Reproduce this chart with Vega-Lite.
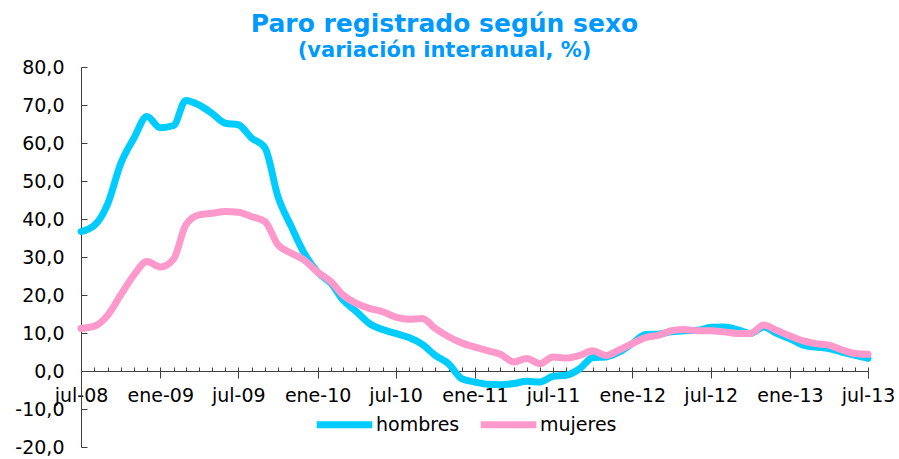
{
  "$schema": "https://vega.github.io/schema/vega-lite/v6.json",
  "width": 787,
  "height": 380,
  "autosize": "none",
  "padding": {"left": 81, "top": 67, "right": 31, "bottom": 12},
  "background": "white",
  "config": {"view": {"stroke": null}, "font": "DejaVu Sans"},
  "title": {
    "text": "Paro registrado según sexo",
    "subtitle": "(variación interanual, %)",
    "color": "#0099FF",
    "subtitleColor": "#0099FF",
    "fontSize": 25,
    "subtitleFontSize": 21,
    "fontWeight": "bold",
    "subtitleFontWeight": "bold",
    "font": "DejaVu Sans",
    "subtitleFont": "DejaVu Sans",
    "anchor": "middle",
    "dx": -30,
    "dy": 11,
    "offset": 8,
    "subtitlePadding": 3
  },
  "data": {
    "values": [
      {"fecha": "2008-07-01", "hombres": 36.7, "mujeres": 11.2},
      {"fecha": "2008-08-01", "hombres": 38.3, "mujeres": 11.8},
      {"fecha": "2008-09-01", "hombres": 44.0, "mujeres": 14.7},
      {"fecha": "2008-10-01", "hombres": 54.5, "mujeres": 20.0},
      {"fecha": "2008-11-01", "hombres": 61.3, "mujeres": 25.3},
      {"fecha": "2008-12-01", "hombres": 67.0, "mujeres": 28.8},
      {"fecha": "2009-01-01", "hombres": 64.0, "mujeres": 27.4},
      {"fecha": "2009-02-01", "hombres": 64.6, "mujeres": 29.5},
      {"fecha": "2009-03-01", "hombres": 71.2, "mujeres": 38.4},
      {"fecha": "2009-04-01", "hombres": 70.0, "mujeres": 41.1},
      {"fecha": "2009-05-01", "hombres": 67.8, "mujeres": 41.5},
      {"fecha": "2009-06-01", "hombres": 65.2, "mujeres": 42.0},
      {"fecha": "2009-07-01", "hombres": 64.8, "mujeres": 41.8},
      {"fecha": "2009-08-01", "hombres": 61.3, "mujeres": 40.6},
      {"fecha": "2009-09-01", "hombres": 58.7, "mujeres": 39.3},
      {"fecha": "2009-10-01", "hombres": 45.9, "mujeres": 33.2},
      {"fecha": "2009-11-01", "hombres": 38.0, "mujeres": 31.0},
      {"fecha": "2009-12-01", "hombres": 31.0, "mujeres": 29.2},
      {"fecha": "2010-01-01", "hombres": 26.0, "mujeres": 26.0},
      {"fecha": "2010-02-01", "hombres": 23.1, "mujeres": 23.5},
      {"fecha": "2010-03-01", "hombres": 18.7, "mujeres": 20.0},
      {"fecha": "2010-04-01", "hombres": 15.6, "mujeres": 17.8},
      {"fecha": "2010-05-01", "hombres": 12.5, "mujeres": 16.5},
      {"fecha": "2010-06-01", "hombres": 10.9, "mujeres": 15.6},
      {"fecha": "2010-07-01", "hombres": 9.9, "mujeres": 14.2},
      {"fecha": "2010-08-01", "hombres": 8.8, "mujeres": 13.6},
      {"fecha": "2010-09-01", "hombres": 7.0, "mujeres": 13.8},
      {"fecha": "2010-10-01", "hombres": 4.1, "mujeres": 11.2},
      {"fecha": "2010-11-01", "hombres": 1.9, "mujeres": 9.0},
      {"fecha": "2010-12-01", "hombres": -2.0, "mujeres": 7.4},
      {"fecha": "2011-01-01", "hombres": -2.9, "mujeres": 6.3},
      {"fecha": "2011-02-01", "hombres": -3.5, "mujeres": 5.3},
      {"fecha": "2011-03-01", "hombres": -3.6, "mujeres": 4.4},
      {"fecha": "2011-04-01", "hombres": -3.3, "mujeres": 2.4},
      {"fecha": "2011-05-01", "hombres": -2.7, "mujeres": 3.3},
      {"fecha": "2011-06-01", "hombres": -2.9, "mujeres": 1.9},
      {"fecha": "2011-07-01", "hombres": -1.4, "mujeres": 3.7},
      {"fecha": "2011-08-01", "hombres": -1.1, "mujeres": 3.4},
      {"fecha": "2011-09-01", "hombres": 0.6, "mujeres": 4.1},
      {"fecha": "2011-10-01", "hombres": 3.5, "mujeres": 5.3},
      {"fecha": "2011-11-01", "hombres": 3.7, "mujeres": 4.1},
      {"fecha": "2011-12-01", "hombres": 5.0, "mujeres": 5.5},
      {"fecha": "2012-01-01", "hombres": 7.2, "mujeres": 7.2},
      {"fecha": "2012-02-01", "hombres": 9.6, "mujeres": 8.8},
      {"fecha": "2012-03-01", "hombres": 9.7, "mujeres": 9.4},
      {"fecha": "2012-04-01", "hombres": 10.3, "mujeres": 10.6},
      {"fecha": "2012-05-01", "hombres": 10.6, "mujeres": 10.9},
      {"fecha": "2012-06-01", "hombres": 10.7, "mujeres": 10.6},
      {"fecha": "2012-07-01", "hombres": 11.5, "mujeres": 10.6},
      {"fecha": "2012-08-01", "hombres": 11.6, "mujeres": 10.3},
      {"fecha": "2012-09-01", "hombres": 10.9, "mujeres": 9.9},
      {"fecha": "2012-10-01", "hombres": 9.9, "mujeres": 9.9},
      {"fecha": "2012-11-01", "hombres": 11.6, "mujeres": 12.1},
      {"fecha": "2012-12-01", "hombres": 9.9, "mujeres": 10.7},
      {"fecha": "2013-01-01", "hombres": 8.5, "mujeres": 9.2},
      {"fecha": "2013-02-01", "hombres": 6.8, "mujeres": 7.9},
      {"fecha": "2013-03-01", "hombres": 6.3, "mujeres": 7.2},
      {"fecha": "2013-04-01", "hombres": 5.9, "mujeres": 6.8},
      {"fecha": "2013-05-01", "hombres": 5.0, "mujeres": 5.6},
      {"fecha": "2013-06-01", "hombres": 4.1, "mujeres": 4.6},
      {"fecha": "2013-07-01", "hombres": 3.3, "mujeres": 4.4}
    ]
  },
  "transform": [{"fold": ["hombres", "mujeres"], "as": ["serie", "valor"]}],
  "layer": [
    {
      "mark": {"type": "line", "strokeWidth": 7, "interpolate": "monotone", "strokeCap": "round", "strokeJoin": "round"},
      "encoding": {
        "x": {
          "field": "fecha",
          "type": "temporal",
          "scale": {"type": "utc", "domain": [{"year": 2008, "month": 7, "date": 1, "utc": true}, {"year": 2013, "month": 7, "date": 1, "utc": true}]},
          "axis": {
            "orient": "bottom",
            "offset": -76,
            "title": null,
            "grid": false,
            "tickCount": {"interval": "month", "step": 1},
            "labelExpr": "utcmonth(datum.value) % 6 == 0 ? (utcmonth(datum.value) == 0 ? 'ene' : 'jul') + '-' + utcFormat(datum.value, '%y') : ''",
            "tickSize": {"condition": {"test": "utcmonth(datum.value) % 6 == 0", "value": 7}, "value": -4},
            "labelPadding": 8,
            "labelBaseline": "top",
            "labelFontSize": 19,
            "labelFont": "DejaVu Sans",
            "labelColor": "black",
            "labelOverlap": false,
            "labelFlush": false,
            "labelBound": false,
            "domainColor": "#404040",
            "tickColor": "#404040",
            "domainWidth": 1,
            "tickWidth": 1
          }
        },
        "y": {
          "field": "valor",
          "type": "quantitative",
          "scale": {"domain": [-20, 80], "nice": false, "zero": false},
          "axis": {
            "title": null,
            "grid": false,
            "values": [-20, -10, 0, 10, 20, 30, 40, 50, 60, 70, 80],
            "labelExpr": "(datum.value < 0 ? '-' : '') + abs(datum.value) + ',0'",
            "labelOverlap": false,
            "labelBound": false,
            "labelFlush": false,
            "tickSize": -6,
            "labelPadding": 23,
            "labelFontSize": 19,
            "labelFont": "DejaVu Sans",
            "labelColor": "black",
            "domainColor": "#404040",
            "tickColor": "#404040"
          }
        },
        "color": {
          "field": "serie",
          "type": "nominal",
          "scale": {"domain": ["hombres", "mujeres"], "range": ["#00CCFF", "#FF99CC"]},
          "legend": {
            "orient": "none",
            "legendX": 232,
            "legendY": 326,
            "direction": "horizontal",
            "title": null,
            "symbolType": "stroke",
            "symbolSize": 3100,
            "symbolStrokeWidth": 7,
            "labelFontSize": 19,
            "labelFont": "DejaVu Sans",
            "labelColor": "black",
            "labelOffset": 0,
            "columnPadding": 6
          }
        }
      }
    },
    {
      "mark": {"type": "point", "opacity": 0},
      "encoding": {
        "x": {
          "field": "fecha",
          "type": "temporal",
          "axis": {
            "orient": "bottom",
            "offset": -76,
            "title": null,
            "grid": false,
            "labels": false,
            "domain": false,
            "tickCount": {"interval": "month", "step": 6},
            "tickSize": -4,
            "tickColor": "#404040",
            "tickWidth": 1
          }
        }
      }
    }
  ],
  "resolve": {"axis": {"x": "independent"}}
}
